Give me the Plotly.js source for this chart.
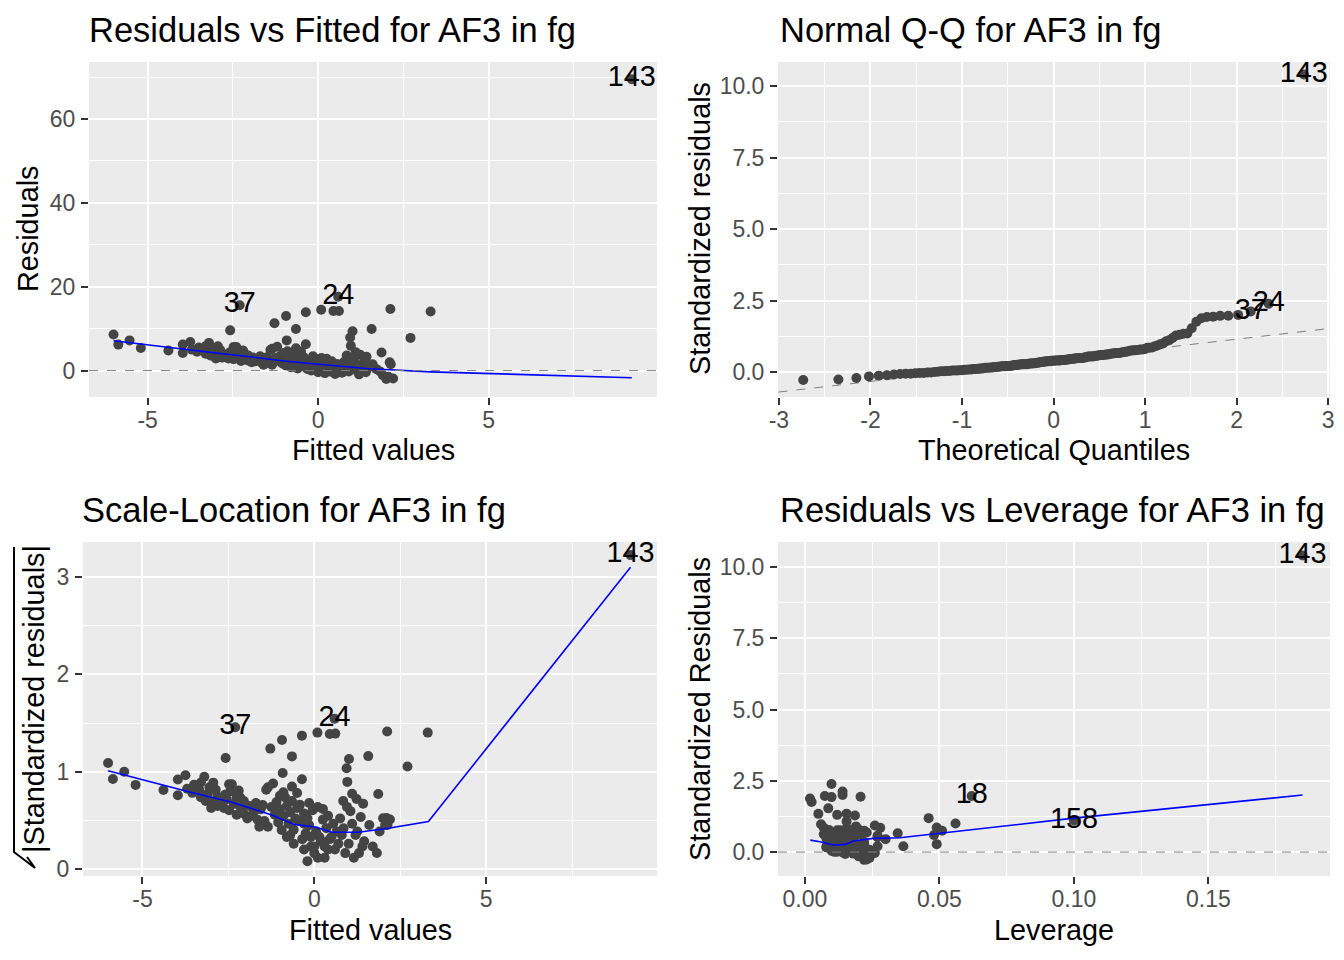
<!DOCTYPE html>
<html>
<head>
<meta charset="utf-8">
<script src="https://cdn.plot.ly/plotly-3.0.1.min.js"></script>
<style>html,body{margin:0;padding:0;background:#fff;}#chart{width:1344px;height:960px;}</style>
</head>
<body>
<div id="chart"></div>
<script>
// ---------------- DATA ----------------
// first five points are the labelled observations 143, 24, 37, 18, 158
const obsLabels = ['143', '24', '37', '18', '158'];
const fitted = [
  9.2, 0.59, -2.3, 3.3, 2.71,
  -6.0, -5.86, -5.53, -5.2, -4.39,
  -3.97, -3.75, -3.97, -3.7, -3.55, -3.5,
  -3.2, -3.3, -3.35, -3.3, -3.16, -3.05, -3.1, -2.94, -2.87, -2.82, -2.82, -2.95, -3.0, -2.75,
  -2.63, -2.48, -2.4, -2.45, -2.26, -2.16, -2.48, -2.26, -2.06, -2.58, -2.55, -2.35, -2.15, -2.05, -2.6, -2.2,
  -1.85, -1.56, -1.65, -1.45, -1.35, -1.35, -1.28, -1.4, -1.75, -1.9, -1.5, -1.6, -1.95, -1.7,
  -0.94, -0.65, -0.92, -0.36, -0.65, -1.2, -1.1, -1.0, -0.9, -0.85, -0.8, -0.75, -0.7, -0.65, -0.6,
  -0.55, -0.5, -0.5, -0.45, -0.42, -1.15, -1.05, -0.95, -0.8, -0.6, -0.9, -0.7, -1.25, -1.0,
  -0.36, 0.09, 0.45, 0.3, -0.3, -0.2, -0.1, 0.0, 0.1, 0.2, -0.25, -0.15, 0.05, 0.15, 0.25, -0.3,
  -0.05, 0.3, 0.4, 0.45, -0.35, 0.0, -0.2, 0.35, 0.1, -0.1, 0.2, 0.4, 0.5, -0.3, 0.25, -0.15,
  0.61, 1.01, 0.94, 0.96, 1.1, 1.23, 1.42, 0.84, 1.57, 0.6, 0.7, 0.8, 0.9, 1.0, 1.1, 1.2, 1.3, 1.4,
  0.75, 0.85, 1.05, 1.25, 1.45, 0.65, 1.15, 0.55, 0.95, 1.35,
  1.82, 2.06, 2.1, 2.13, 1.86, 2.12, 1.7, 1.9, 2.0, 1.6, 2.2
];
const resid = [
  69.5, 17.6, 15.6, 14.1, 7.8,
  8.6, 6.2, 7.2, 5.4, 4.8,
  6.2, 6.8, 4.2, 5.0, 4.5, 5.5,
  6.6, 5.8, 4.9, 4.0, 3.6, 5.2, 4.4, 5.8, 4.9, 4.1, 3.1, 3.5, 2.9, 3.6,
  2.9, 5.6, 5.6, 4.7, 4.0, 4.0, 2.7, 2.3, 2.4, 9.6, 3.8, 3.3, 3.0, 3.6, 4.3, 4.8,
  2.2, 2.8, 1.9, 1.8, 1.4, 5.2, 11.3, 4.9, 2.6, 3.1, 3.2, 1.4, 2.0, 3.4,
  13.0, 9.9, 7.2, 6.3, 5.3, 5.7, 3.5, 2.8, 2.2, 4.0, 3.1, 1.6, 2.5, 3.6, 1.2,
  2.0, 4.5, 2.9, 1.8, 3.2, 2.3, 1.7, 1.2, 0.8, 0.5, 4.6, 0.9, 3.0, 4.2,
  13.9, 14.5, 14.2, 0.1, 0.3, 0.05, 0.4, 0.2, -0.1, 0.6, 1.0, 1.5, 1.1, 0.8, 1.9, 2.4,
  2.7, 0.4, -0.3, 0.7, 0.7, -0.4, 2.0, 1.3, 3.0, 0.8, -0.6, 2.2, -0.8, 1.6, 2.8, 3.4,
  14.2, 9.4, 7.9, 5.9, 4.4, 3.8, 3.3, 3.6, 9.9, 0.3, -0.5, 0.9, -0.2, 0.5, 1.6, -0.9, 0.2, -0.4,
  2.0, 1.3, 2.6, 1.1, 0.6, 1.1, -0.1, 1.6, 3.0, 2.1,
  -0.2, -1.5, 2.0, 1.5, 4.3, 14.7, 0.4, -1.1, -2.0, 1.5, -1.9
];
const leverage = [
  0.185, 0.0099, 0.014, 0.062, 0.100,
  0.046, 0.049, 0.056, 0.051, 0.0345,
  0.028, 0.026, 0.027, 0.023, 0.021, 0.022,
  0.019, 0.020, 0.021, 0.018, 0.017, 0.016, 0.018, 0.015, 0.016, 0.014, 0.015, 0.017, 0.016, 0.014,
  0.013, 0.012, 0.013, 0.012, 0.011, 0.012, 0.013, 0.012, 0.011, 0.012, 0.013, 0.011, 0.010, 0.011, 0.014, 0.012,
  0.010, 0.009, 0.010, 0.009, 0.008, 0.009, 0.0087, 0.010, 0.011, 0.010, 0.009, 0.012, 0.011, 0.010,
  0.0025, 0.005, 0.006, 0.007, 0.008, 0.009, 0.008, 0.010, 0.012, 0.013, 0.011, 0.014, 0.015, 0.012, 0.016,
  0.013, 0.011, 0.017, 0.014, 0.018, 0.009, 0.010, 0.008, 0.012, 0.015, 0.007, 0.016, 0.009, 0.008,
  0.0019, 0.0074, 0.0099, 0.012, 0.010, 0.011, 0.013, 0.012, 0.014, 0.016, 0.015, 0.017, 0.018, 0.013, 0.019, 0.016,
  0.014, 0.020, 0.015, 0.017, 0.012, 0.018, 0.019, 0.021, 0.013, 0.020, 0.022, 0.018, 0.024, 0.011, 0.015, 0.014,
  0.0207, 0.0186, 0.0155, 0.016, 0.019, 0.027, 0.030, 0.017, 0.0155, 0.013, 0.015, 0.017, 0.019, 0.021, 0.018, 0.023, 0.020, 0.025,
  0.014, 0.016, 0.022, 0.019, 0.024, 0.012, 0.021, 0.013, 0.018, 0.022,
  0.026, 0.024, 0.049, 0.0366, 0.048, 0.014, 0.021, 0.020, 0.022, 0.027, 0.023
];
const residSigma = 7.4;              // residual standard error of the model
const labelsByResid = [0, 1, 2];     // 143, 24, 37
const labelsByCook = [0, 3, 4];      // 143, 18, 158

// loess smooth curves
const smoothRF_x = [-6.0, -5.0, -4.0, -3.0, -2.0, -1.0, 0.0, 1.0, 1.5, 2.1, 2.7, 3.3, 9.2];
const smoothRF_y = [7.1, 6.1, 5.1, 4.2, 3.3, 2.3, 1.5, 0.75, 0.45, 0.2, -0.05, -0.3, -1.7];
const smoothSL_x = [-6.0, -5.25, -3.6, -2.43, -1.26, -0.58, 0.06, 0.5, 1.28, 2.15, 3.32, 9.2];
const smoothSL_y = [1.01, 0.94, 0.79, 0.69, 0.56, 0.46, 0.43, 0.38, 0.38, 0.42, 0.49, 3.1];
const smoothRL_x = [0.002, 0.0056, 0.0105, 0.015, 0.018, 0.0254, 0.0353, 0.05, 0.062, 0.10, 0.185];
const smoothRL_y = [0.42, 0.36, 0.25, 0.27, 0.39, 0.48, 0.50, 0.66, 0.78, 1.19, 2.0];

// tick labels
const fitTickVals = [-5, 0, 5], fitTickText = ['-5', '0', '5'];
const residTickVals = [0, 20, 40, 60], residTickText = ['0', '20', '40', '60'];
const qTickVals = [-3, -2, -1, 0, 1, 2, 3], qTickText = ['-3', '-2', '-1', '0', '1', '2', '3'];
const stdTickVals = [0, 2.5, 5, 7.5, 10], stdTickText = ['0.0', '2.5', '5.0', '7.5', '10.0'];
const slTickVals = [0, 1, 2, 3], slTickText = ['0', '1', '2', '3'];
const levTickVals = [0, 0.05, 0.10, 0.15], levTickText = ['0.00', '0.05', '0.10', '0.15'];

// ---------------- derived diagnostics ----------------
function qnorm(p) {
  const a = [-3.969683028665376e+01, 2.209460984245205e+02, -2.759285104469687e+02, 1.383577518672690e+02, -3.066479806614716e+01, 2.506628277459239e+00];
  const b = [-5.447609879822406e+01, 1.615858368580409e+02, -1.556989798598866e+02, 6.680131188771972e+01, -1.328068155288572e+01];
  const c = [-7.784894002430293e-03, -3.223964580411365e-01, -2.400758277161838e+00, -2.549732539343734e+00, 4.374664141464968e+00, 2.938163982698783e+00];
  const d = [7.784695709041462e-03, 3.224671290700398e-01, 2.445134137142996e+00, 3.754408661907416e+00];
  const pl = 0.02425;
  let q, r;
  if (p < pl) { q = Math.sqrt(-2 * Math.log(p)); return (((((c[0]*q+c[1])*q+c[2])*q+c[3])*q+c[4])*q+c[5]) / ((((d[0]*q+d[1])*q+d[2])*q+d[3])*q+1); }
  if (p <= 1 - pl) { q = p - 0.5; r = q*q; return (((((a[0]*r+a[1])*r+a[2])*r+a[3])*r+a[4])*r+a[5])*q / (((((b[0]*r+b[1])*r+b[2])*r+b[3])*r+b[4])*r+1); }
  q = Math.sqrt(-2 * Math.log(1 - p));
  return -(((((c[0]*q+c[1])*q+c[2])*q+c[3])*q+c[4])*q+c[5]) / ((((d[0]*q+d[1])*q+d[2])*q+d[3])*q+1);
}
const n = resid.length;
const stdres = resid.map((r, i) => r / (residSigma * Math.sqrt(1 - leverage[i])));
const sqrtAbs = stdres.map(s => Math.sqrt(Math.abs(s)));
const order = stdres.map((s, i) => i).sort((i, j) => stdres[i] - stdres[j]);
const theo = new Array(n);
order.forEach((idx, rank) => { theo[idx] = qnorm((rank + 1 - 0.5) / n); });
function quantile7(arr, p) {
  const s = arr.slice().sort((x, y) => x - y);
  const h = (s.length - 1) * p, lo = Math.floor(h);
  return s[lo] + (h - lo) * ((s[Math.min(lo + 1, s.length - 1)]) - s[lo]);
}
const qy1 = quantile7(stdres, 0.25), qy3 = quantile7(stdres, 0.75);
const qx1 = qnorm(0.25), qx3 = qnorm(0.75);
const qqSlope = (qy3 - qy1) / (qx3 - qx1), qqInt = qy1 - qqSlope * qx1;

// ---------------- styling ----------------
const FONT = 'Liberation Sans, Arial, sans-serif';
const PT_COL = '#444444';
const W = 1344, H = 960;
const px = v => v / W, py = v => 1 - v / H;

function axis(domain, anchor, range, tickvals, ticktext, minorVals, isX) {
  return {
    domain: domain, anchor: anchor, range: range, autorange: false,
    tickmode: 'array', tickvals: tickvals, ticktext: ticktext,
    showgrid: true, gridcolor: '#FFFFFF', gridwidth: 2,
    minor: { tickmode: 'array', tickvals: minorVals, showgrid: true, gridcolor: '#FFFFFF', gridwidth: 1, ticks: '' },
    zeroline: false, showline: false,
    ticks: 'outside', ticklen: 7, tickwidth: 2, tickcolor: '#333333',
    ticklabelstandoff: isX ? -5 : 1,
    tickfont: { family: FONT, size: 23, color: '#4D4D4D' },
    fixedrange: true
  };
}

function pts(x, y, xa, ya) {
  return { type: 'scatter', mode: 'markers', x: x, y: y, xaxis: xa, yaxis: ya,
    marker: { color: PT_COL, size: 10 }, hoverinfo: 'skip', showlegend: false, cliponaxis: true };
}
function line(x, y, xa, ya) {
  return { type: 'scatter', mode: 'lines', x: x, y: y, xaxis: xa, yaxis: ya,
    line: { color: '#0000FF', width: 1.6 }, hoverinfo: 'skip', showlegend: false };
}
function labels(idxs, xs, ys, xa, ya) {
  return { type: 'scatter', mode: 'text', xaxis: xa, yaxis: ya,
    x: idxs.map(i => xs[i]), y: idxs.map(i => ys[i]), text: idxs.map(i => obsLabels[i]),
    textposition: 'middle center', textfont: { family: FONT, size: 28.8, color: '#000000' },
    hoverinfo: 'skip', showlegend: false, cliponaxis: false };
}

const traces = [
  // panel 1: residuals vs fitted
  pts(fitted, resid, 'x', 'y'),
  line(smoothRF_x, smoothRF_y, 'x', 'y'),
  labels(labelsByResid, fitted, resid, 'x', 'y'),
  // panel 2: normal Q-Q
  { type: 'scatter', mode: 'lines', x: [-3.2, 3.2], y: [qqInt - 3.2 * qqSlope, qqInt + 3.2 * qqSlope],
    xaxis: 'x2', yaxis: 'y2', line: { color: '#7F7F7F', width: 1, dash: 'dash' }, hoverinfo: 'skip', showlegend: false },
  pts(theo, stdres, 'x2', 'y2'),
  labels(labelsByResid, theo, stdres, 'x2', 'y2'),
  // panel 3: scale-location
  pts(fitted, sqrtAbs, 'x3', 'y3'),
  line(smoothSL_x, smoothSL_y, 'x3', 'y3'),
  labels(labelsByResid, fitted, sqrtAbs, 'x3', 'y3'),
  // panel 4: residuals vs leverage
  pts(leverage, stdres, 'x4', 'y4'),
  line(smoothRL_x, smoothRL_y, 'x4', 'y4'),
  labels(labelsByCook, leverage, stdres, 'x4', 'y4')
];

const dx1 = [px(89), px(657)], dx2 = [px(778), px(1330)], dx3 = [px(83), px(657)];
const dyTop = [py(397), py(62)], dyBot = [py(876), py(542)];

function ann(text, x, y, size, opts) {
  return Object.assign({ text: text, x: x, y: y, xref: 'paper', yref: 'paper', showarrow: false,
    font: { family: FONT, size: size, color: '#000000' }, xanchor: 'center', yanchor: 'middle' }, opts || {});
}

const layout = {
  width: W, height: H,
  margin: { l: 0, r: 0, t: 0, b: 0 },
  paper_bgcolor: '#FFFFFF', plot_bgcolor: '#EBEBEB',
  showlegend: false,
  font: { family: FONT },
  xaxis:  axis(dx1, 'y',  [-6.72, 9.94], fitTickVals, fitTickText, [-2.5, 2.5, 7.5], true),
  yaxis:  axis(dyTop, 'x', [-6.3, 73.6], residTickVals, residTickText, [10, 30, 50, 70], false),
  xaxis2: axis(dx2, 'y2', [-3.01, 3.02], qTickVals, qTickText, [-2.5, -1.5, -0.5, 0.5, 1.5, 2.5], true),
  yaxis2: axis(dyTop, 'x2', [-0.87, 10.84], stdTickVals, stdTickText, [1.25, 3.75, 6.25, 8.75], false),
  xaxis3: axis(dx3, 'y3', [-6.73, 9.97], fitTickVals, fitTickText, [-2.5, 2.5, 7.5], true),
  yaxis3: axis(dyBot, 'x3', [-0.07, 3.36], slTickVals, slTickText, [0.5, 1.5, 2.5], false),
  xaxis4: axis(dx2, 'y4', [-0.0100, 0.1952], levTickVals, levTickText, [0.025, 0.075, 0.125, 0.175], true),
  yaxis4: axis(dyBot, 'x4', [-0.84, 10.88], stdTickVals, stdTickText, [1.25, 3.75, 6.25, 8.75], false),
  shapes: [
    { type: 'line', xref: 'x domain', yref: 'y', x0: 0, x1: 1, y0: 0, y1: 0, line: { color: '#7F7F7F', width: 1, dash: 'dash' }, layer: 'above' },
    { type: 'line', xref: 'x4 domain', yref: 'y4', x0: 0, x1: 1, y0: 0, y1: 0, line: { color: '#7F7F7F', width: 1, dash: 'dash' }, layer: 'above' },
    // radical sign for sqrt(|Standardized residuals|)
    { type: 'path', xref: 'paper', yref: 'paper',
      path: 'M ' + px(14) + ',' + py(547) + ' L ' + px(14) + ',' + py(852) + ' L ' + px(35) + ',' + py(868) + ' L ' + px(27) + ',' + py(857),
      line: { color: '#000000', width: 2 } }
  ],
  annotations: [
    ann('Residuals vs Fitted for AF3 in fg', px(87), py(30), 34.5, { xanchor: 'left' }),
    ann('Normal Q-Q for AF3 in fg', px(778), py(30), 34.5, { xanchor: 'left' }),
    ann('Scale-Location for AF3 in fg', px(80), py(510), 34.5, { xanchor: 'left' }),
    ann('Residuals vs Leverage for AF3 in fg', px(778), py(510), 34.5, { xanchor: 'left' }),
    ann('Fitted values', px(373), py(450), 28.8),
    ann('Theoretical Quantiles', px(1054), py(450), 28.8),
    ann('Fitted values', px(370), py(930), 28.8),
    ann('Leverage', px(1054), py(930), 28.8),
    ann('Residuals', px(28), py(229), 28.8, { textangle: -90 }),
    ann('Standardized residuals', px(700), py(229), 28.8, { textangle: -90 }),
    ann('|Standardized residuals|', px(34), py(699), 28.8, { textangle: -90 }),
    ann('Standardized Residuals', px(700), py(709), 28.8, { textangle: -90 })
  ]
};

Plotly.newPlot('chart', traces, layout, { staticPlot: true, displayModeBar: false });
</script>
</body>
</html>
